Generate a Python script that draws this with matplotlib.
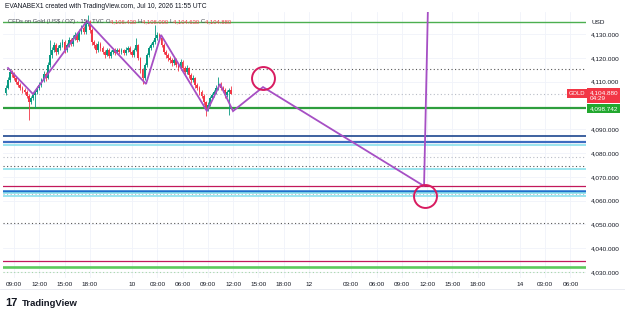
"""TradingView-style 15m gold chart with drawn levels and a projected path."""

import matplotlib

matplotlib.use("Agg")
import matplotlib.pyplot as plt
import matplotlib.transforms as mtransforms
import numpy as np

W, H = 625, 319

# 15-minute candles, x measured in trading hours from Jul 9 09:00
FIRST_BAR_HOUR = -1.0
BAR_HOURS = 0.25
FIRST_OPEN = 4105.0
CLOSES = [
    4107.3, 4110.7, 4114.0, 4113.2, 4111.5, 4109.8, 4108.6, 4107.3, 4106.5, 4105.6,
    4104.0, 4101.4, 4103.1, 4104.4, 4105.6, 4107.3, 4108.6, 4110.7, 4113.2, 4111.5,
    4117.0, 4121.2, 4123.3, 4125.4, 4122.4, 4124.1, 4125.4, 4126.6, 4123.3, 4125.4,
    4127.5, 4125.8, 4128.3, 4129.6, 4127.5, 4130.8, 4132.5, 4130.8, 4134.2, 4135.0,
    4131.7, 4126.6, 4125.4, 4123.3, 4125.8, 4124.1, 4122.4, 4121.2, 4123.3, 4120.8,
    4122.4, 4123.3, 4122.0, 4123.3, 4122.4, 4123.3, 4122.0, 4123.3, 4124.1, 4122.4,
    4121.2, 4123.3, 4125.4, 4119.9, 4114.9, 4111.5, 4117.0, 4121.2, 4124.1, 4125.4,
    4126.6, 4128.3, 4129.6, 4128.3, 4125.4, 4122.4, 4121.2, 4119.9, 4119.1, 4117.8,
    4119.1, 4117.0, 4115.7, 4118.2, 4115.7, 4114.0, 4115.7, 4112.8, 4110.7, 4111.5,
    4108.6, 4107.3, 4105.6, 4104.0, 4101.4, 4098.9, 4100.2, 4103.1, 4104.4, 4105.6,
    4107.3, 4109.0, 4107.3, 4106.5, 4104.4, 4105.6, 4106.43, 4104.88,
]
HIGHS = [
    4108.5, 4111.8, 4115.5, 4114.9, 4113.9, 4112.3, 4110.5, 4109.2, 4108.0, 4107.4,
    4106.3, 4104.8, 4104.0, 4105.3, 4106.6, 4108.2, 4109.7, 4111.6, 4114.6, 4114.0,
    4118.3, 4127.5, 4124.6, 4126.8, 4126.2, 4125.2, 4126.5, 4127.9, 4127.4, 4126.3,
    4128.8, 4128.4, 4129.4, 4130.8, 4130.3, 4131.9, 4133.7, 4133.4, 4135.3, 4138.0,
    4135.8, 4132.4, 4127.6, 4126.1, 4126.9, 4126.5, 4124.9, 4123.2, 4124.2, 4124.0,
    4123.3, 4124.3, 4124.0, 4124.2, 4124.0, 4124.1, 4123.9, 4124.4, 4125.0, 4124.8,
    4123.1, 4124.3, 4128.3, 4126.0, 4120.5, 4115.6, 4118.0, 4122.1, 4125.0, 4126.4,
    4127.6, 4133.8, 4130.7, 4130.4, 4129.0, 4126.1, 4123.2, 4122.0, 4120.8, 4119.9,
    4120.4, 4119.8, 4117.8, 4119.5, 4118.9, 4116.4, 4116.8, 4116.3, 4113.5, 4112.6,
    4112.1, 4109.4, 4108.1, 4106.4, 4104.7, 4102.0, 4101.3, 4104.0, 4105.4, 4106.6,
    4108.4, 4112.0, 4109.8, 4108.2, 4107.1, 4106.5, 4107.2, 4108.0,
]
LOWS = [
    4104.2, 4106.8, 4110.0, 4112.1, 4110.6, 4109.0, 4107.7, 4106.5, 4105.4, 4104.6,
    4102.9, 4094.0, 4100.5, 4102.2, 4099.0, 4104.8, 4106.5, 4107.9, 4110.0, 4110.2,
    4110.9, 4116.2, 4120.1, 4122.5, 4121.3, 4121.5, 4123.2, 4124.6, 4122.1, 4122.6,
    4124.7, 4124.9, 4125.0, 4127.4, 4126.6, 4126.9, 4130.0, 4129.8, 4130.1, 4133.3,
    4130.6, 4125.5, 4124.2, 4122.2, 4122.6, 4123.0, 4121.5, 4119.8, 4120.6, 4119.9,
    4120.0, 4121.7, 4121.2, 4121.4, 4121.6, 4121.7, 4121.1, 4121.3, 4122.6, 4121.5,
    4120.2, 4120.5, 4122.7, 4119.0, 4113.8, 4109.0, 4110.8, 4116.3, 4120.5, 4123.2,
    4124.5, 4125.9, 4127.6, 4127.3, 4124.4, 4121.4, 4120.0, 4118.7, 4118.0, 4116.5,
    4117.0, 4116.0, 4114.5, 4115.0, 4114.6, 4112.9, 4113.2, 4111.7, 4109.5, 4109.9,
    4107.5, 4106.3, 4104.5, 4102.9, 4100.2, 4095.7, 4097.8, 4099.6, 4102.4, 4103.6,
    4104.9, 4106.6, 4106.4, 4105.6, 4103.3, 4103.7, 4096.0, 4104.63,
]
LAST_OHLC = [4106.430, 4108.000, 4104.630, 4104.880]
LAST_PRICE = 4104.880
SUPPORT_PRICE = 4098.742
COUNTDOWN = "04:29"

TICK_HOURS = [0, 3, 6, 9, 14, 17, 20, 23, 26, 29, 32, 35, 40, 43, 46, 49, 52, 55, 60, 63, 66]
TICK_LABELS = ["09:00", "12:00", "15:00", "18:00", "10", "03:00", "06:00", "09:00", "12:00",
               "15:00", "18:00", "12", "03:00", "06:00", "09:00", "12:00", "15:00", "18:00",
               "14", "03:00", "06:00"]
PRICE_TICKS = [4030, 4040, 4050, 4060, 4070, 4080, 4090, 4110, 4120, 4130]

# horizontal drawings: price and kind
LEVEL_PRICES = [4135.0, 4115.4, 4104.88, 4098.742, 4087.2, 4084.7, 4083.5, 4078.5,
                4074.7, 4073.3, 4066.2, 4064.2, 4063.2, 4062.6, 4062.1, 4050.5,
                4034.5, 4032.0, 4030.1]
LEVEL_KINDS = ["green", "dot_dark", "dot_light", "green_bold", "navy", "blue", "cyan",
               "dot_light", "dot_dark", "cyan", "crimson", "blue_bold", "cyan",
               "dot_light", "cyan", "dot_dark", "crimson", "lime_bold", "dot_green"]

ZIGZAG_HOURS = [-0.71, 2.25, 8.66, 15.66, 17.44, 22.89, 24.44, 25.98, 29.54, 48.64, 49.1]
ZIGZAG_PRICES = [4115.7, 4104.8, 4135.5, 4109.0, 4129.6, 4097.6, 4109.0, 4097.6,
                 4107.7, 4066.1, 4141.0]
CIRCLE_HOURS = [29.54, 48.7]
CIRCLE_PRICES = [4111.5, 4062.1]

UP, DOWN = "#089981", "#f23645"
TEXT = "#131722"
LEVEL_STYLE = {
    "green": dict(color="#4caf50", lw=1.0, ls="-"),
    "green_bold": dict(color="#2e9e3e", lw=1.6, ls="-"),
    "lime_bold": dict(color="#5cc95c", lw=1.9, ls="-"),
    "dot_dark": dict(color="#555555", lw=0.8, ls=(0, (1, 2.2))),
    "dot_light": dict(color="#b8bcc6", lw=0.8, ls=(0, (1, 2.2))),
    "dot_green": dict(color="#a5d6a7", lw=0.8, ls=(0, (1, 2.2))),
    "navy": dict(color="#2f5597", lw=1.3, ls="-"),
    "blue": dict(color="#3d6cc0", lw=1.6, ls="-"),
    "blue_bold": dict(color="#1f6fcc", lw=1.8, ls="-"),
    "cyan": dict(color="#80deea", lw=1.1, ls="-"),
    "crimson": dict(color="#c2185b", lw=0.9, ls="-"),
}


def px(x, y):
    return x / W, 1 - y / H


plt.rcParams["font.family"] = ["Liberation Sans", "DejaVu Sans"]
fig = plt.figure(figsize=(W / 100, H / 100), dpi=100)
fig.patch.set_facecolor("white")
ax = fig.add_axes([3 / W, 1 - 278 / H, 583 / W, 266 / H])
ax.set_xlim(-1.305, 67.85)
ax.set_ylim(4027.48, 4139.24)
for side in ax.spines.values():
    side.set_visible(False)

ax.set_xticks(TICK_HOURS, TICK_LABELS)
ax.set_yticks(PRICE_TICKS, [f"{v:,.3f}" for v in PRICE_TICKS])
ax.yaxis.tick_right()
ax.tick_params(axis="x", length=0, pad=3, labelsize=4.6, labelcolor=TEXT)
ax.tick_params(axis="y", length=0, pad=3.5, labelsize=4.6, labelcolor=TEXT)
ax.grid(True, color="#f0f3fa", lw=0.6)
ax.set_axisbelow(True)

for price, kind in zip(LEVEL_PRICES, LEVEL_KINDS):
    st = LEVEL_STYLE[kind]
    ax.axhline(price, color=st["color"], lw=st["lw"], ls=st["ls"], zorder=1)

# candles
closes = np.array(CLOSES)
opens = np.concatenate([[FIRST_OPEN], closes[:-1]])
opens[-1] = LAST_OHLC[0]
xs = FIRST_BAR_HOUR + BAR_HOURS * np.arange(len(closes))
colors = np.where(closes >= opens, UP, DOWN)
ax.vlines(xs, LOWS, HIGHS, colors=colors, lw=0.6, zorder=3)
body = np.maximum(np.abs(closes - opens), 0.3)
ax.bar(xs, body, bottom=np.minimum(opens, closes), width=0.21, color=colors,
       lw=0, zorder=4)

ax.plot(ZIGZAG_HOURS, ZIGZAG_PRICES, color="#a64fc4", lw=1.3, zorder=5,
        solid_joinstyle="miter")
ax.plot(CIRCLE_HOURS, CIRCLE_PRICES, "o", mfc="none", mec="#d81b60", ms=16.5,
        mew=1.4, zorder=6)

# price scale labels
right = mtransforms.blended_transform_factory(ax.transAxes, ax.transData)
ax.text(1.009, 4135.0, "USD", transform=right, fontsize=4.6, color=TEXT,
        va="center", ha="left")
ax.text(0.999, LAST_PRICE, "GOLD", transform=right, fontsize=4.2, color="white",
        va="center", ha="right",
        bbox=dict(boxstyle="square,pad=0.35", fc=DOWN, ec="none"))
ax.text(1.006, LAST_PRICE + 1.5, f"{LAST_PRICE:,.3f}\n{COUNTDOWN}", transform=right,
        fontsize=4.6, color="white", va="top", ha="left", linespacing=1.15,
        bbox=dict(boxstyle="square,pad=0.35", fc=DOWN, ec="none"))
ax.text(1.006, SUPPORT_PRICE, f"{SUPPORT_PRICE:,.3f}", transform=right,
        fontsize=4.6, color="white", va="center", ha="left",
        bbox=dict(boxstyle="square,pad=0.35", fc="#22a82f", ec="none"))

# header
fig.text(*px(5, 6), "EVANABEX1 created with TradingView.com, Jul 10, 2026 11:55 UTC",
         fontsize=4.8, color=TEXT, va="center", ha="left")
prev = fig.text(*px(8, 24), "CFDs on Gold (US$ / OZ) · 15 · TVC ", fontsize=4.2,
                color="#434651", va="bottom", ha="left")
for letter, val in zip("OHLC", LAST_OHLC):
    prev = ax.annotate(letter, xy=(1, 0), xycoords=prev, fontsize=4.2,
                       color="#434651", va="bottom", ha="left", annotation_clip=False)
    prev = ax.annotate(f"{val:,.3f} ", xy=(1, 0), xycoords=prev, fontsize=4.2,
                       color=DOWN, va="bottom", ha="left", annotation_clip=False)

# footer
fig.add_artist(plt.Line2D([0, 1], [1 - 289 / H] * 2, color="#e0e3eb", lw=0.5))
fig.text(*px(5, 303), "17", fontsize=8, fontweight="heavy", color=TEXT,
         va="center", ha="left")
fig.text(*px(22, 303), "TradingView", fontsize=6.8, fontweight="bold", color=TEXT,
         va="center", ha="left")

fig.savefig("out.png", dpi=100, facecolor="white")
